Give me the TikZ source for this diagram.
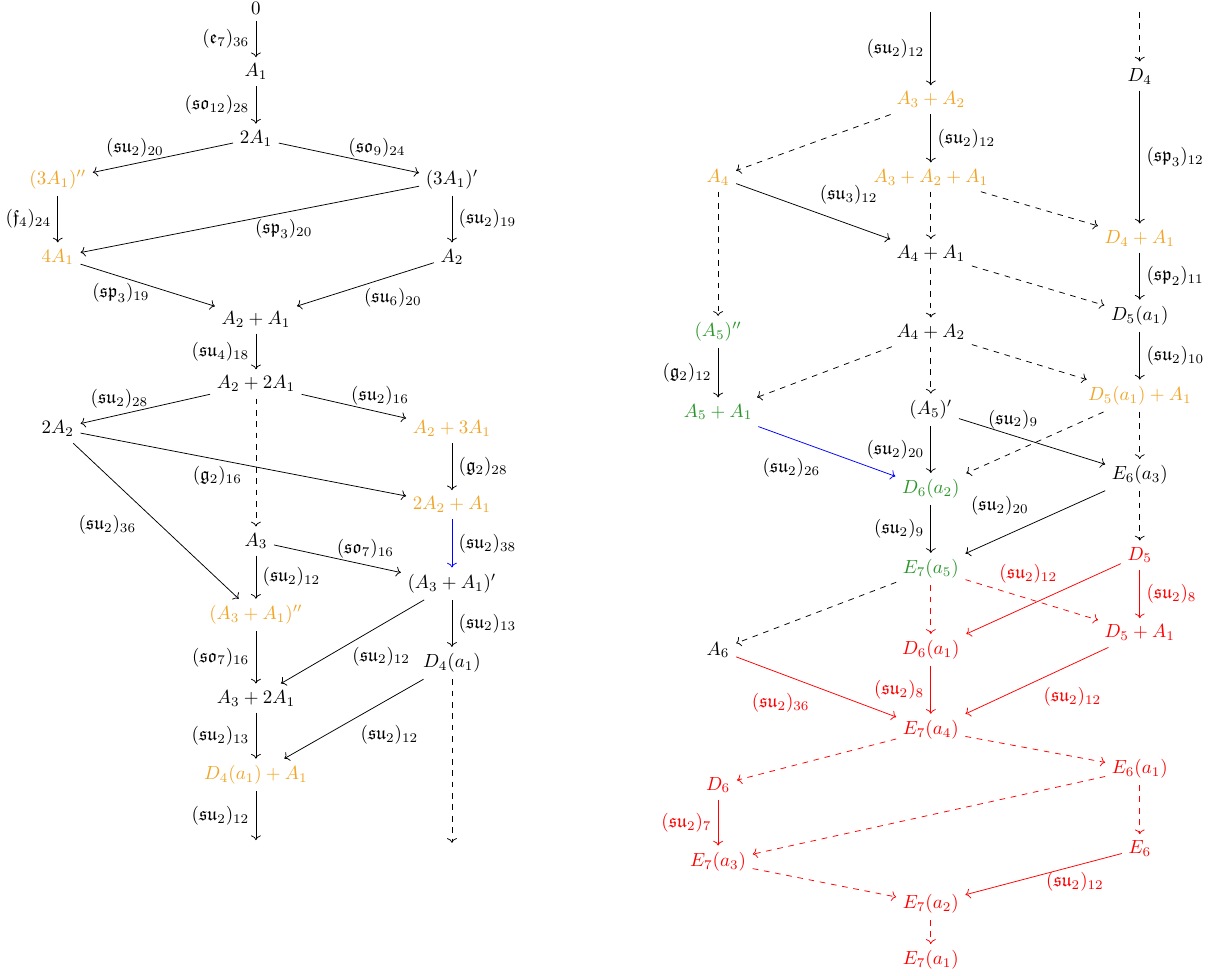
\documentclass[tikz,border=0pt]{standalone}
\usepackage{amsmath,amssymb}
\usepackage{xcolor}
\usetikzlibrary{arrows.meta}
\definecolor{orangeA}{RGB}{240,165,40}
\definecolor{greenA}{RGB}{40,150,40}
\tikzset{
  ornode/.style={text=orangeA},
  grnode/.style={text=greenA},
  rdnode/.style={text=red},
  dashedge/.style={->,dashed}
}
\begin{document}
\begin{tikzpicture}
\useasboundingbox (0,0) rectangle (22.54,-18.07);
% left diagram
\node (z) at (4.74,-0.15) {$0$};
\node (a1) at (4.74,-1.33) {$A_1$};
\node (twoa1) at (4.74,-2.56) {$2A_1$};
\node[ornode] (thrpp) at (1.07,-3.33) {$(3A_1)''$};
\node (thrp) at (8.37,-3.33) {$(3A_1)'$};
\node[ornode] (foura1) at (1.07,-4.76) {$4A_1$};
\node (a2) at (8.37,-4.76) {$A_2$};
\node (a2a1) at (4.74,-5.91) {$A_2+A_1$};
\node (a22a1) at (4.74,-7.11) {$A_2+2A_1$};
\node (twoa2) at (1.07,-7.94) {$2A_2$};
\node[ornode] (a23a1) at (8.37,-7.94) {$A_2+3A_1$};
\node[ornode] (twoa2a1) at (8.37,-9.35) {$2A_2+A_1$};
\node (a3) at (4.74,-10.02) {$A_3$};
\node (a3a1p) at (8.37,-10.81) {$(A_3+A_1)'$};
\node[ornode] (a3a1pp) at (4.74,-11.39) {$(A_3+A_1)''$};
\node (d4a1) at (8.37,-12.28) {$D_4(a_1)$};
\node (a32a1) at (4.74,-12.93) {$A_3+2A_1$};
\node[ornode] (d4a1a1) at (4.74,-14.35) {$D_4(a_1)+A_1$};
\coordinate (endL) at (4.74,-15.56);
\coordinate (endR) at (8.37,-15.61);

\draw[->] (z) -- (a1) node[midway,left]{$(\mathfrak{e}_7)_{36}$};
\draw[->] (a1) -- (twoa1) node[midway,left]{$(\mathfrak{so}_{12})_{28}$};
\draw[->] (twoa1) -- (thrpp) node[pos=0.7,above]{$(\mathfrak{su}_2)_{20}$};
\draw[->] (twoa1) -- (thrp) node[pos=0.7,above]{$(\mathfrak{so}_9)_{24}$};
\draw[->] (thrpp) -- (foura1) node[midway,left]{$(\mathfrak{f}_4)_{24}$};
\draw[->] (thrp) -- (foura1) node[pos=0.4,below]{$(\mathfrak{sp}_3)_{20}$};
\draw[->] (thrp) -- (a2) node[midway,right]{$(\mathfrak{su}_2)_{19}$};
\draw[->] (foura1) -- (a2a1) node[pos=0.3,below]{$(\mathfrak{sp}_3)_{19}$};
\draw[->] (a2) -- (a2a1) node[pos=0.3,below=3pt]{$(\mathfrak{su}_6)_{20}$};
\draw[->] (a2a1) -- (a22a1) node[midway,left]{$(\mathfrak{su}_4)_{18}$};
\draw[->] (a22a1) -- (twoa2) node[pos=0.7,above]{$(\mathfrak{su}_2)_{28}$};
\draw[->] (a22a1) -- (a23a1) node[pos=0.75,above]{$(\mathfrak{su}_2)_{16}$};
\draw[dashedge] (a22a1) -- (a3);
\draw[->] (twoa2) -- (twoa2a1) node[pos=0.42,below]{$(\mathfrak{g}_2)_{16}$};
\draw[->] (a23a1) -- (twoa2a1) node[midway,right]{$(\mathfrak{g}_2)_{28}$};
\draw[->] (twoa2) -- (a3a1pp) node[pos=0.42,below left]{$(\mathfrak{su}_2)_{36}$};
\draw[->,blue] (twoa2a1) -- (a3a1p) node[midway,right,text=black]{$(\mathfrak{su}_2)_{38}$};
\draw[->] (a3) -- (a3a1p) node[pos=0.72,above]{$(\mathfrak{so}_7)_{16}$};
\draw[->] (a3) -- (a3a1pp) node[midway,right]{$(\mathfrak{su}_2)_{12}$};
\draw[->] (a3a1p) -- (a32a1) node[pos=0.3,below=8pt]{$(\mathfrak{su}_2)_{12}$};
\draw[->] (a3a1p) -- (d4a1) node[midway,right]{$(\mathfrak{su}_2)_{13}$};
\draw[->] (a3a1pp) -- (a32a1) node[midway,left]{$(\mathfrak{so}_7)_{16}$};
\draw[->] (d4a1) -- (d4a1a1) node[pos=0.5,below right]{$(\mathfrak{su}_2)_{12}$};
\draw[->] (a32a1) -- (d4a1a1) node[midway,left]{$(\mathfrak{su}_2)_{13}$};
\draw[->] (d4a1a1) -- (endL) node[midway,left]{$(\mathfrak{su}_2)_{12}$};
\draw[dashedge] (d4a1) -- (endR);

% right diagram
\coordinate (topA) at (17.24,-0.22);
\coordinate (topD) at (21.11,-0.22);
\node[ornode] (a3a2) at (17.24,-1.85) {$A_3+A_2$};
\node (d4) at (21.11,-1.41) {$D_4$};
\node[ornode] (a4) at (13.30,-3.28) {$A_4$};
\node[ornode] (a3a2a1) at (17.24,-3.28) {$A_3+A_2+A_1$};
\node[ornode] (d4a1r) at (21.11,-4.41) {$D_4+A_1$};
\node (a4a1) at (17.24,-4.70) {$A_4+A_1$};
\node (d5a1) at (21.11,-5.85) {$D_5(a_1)$};
\node[grnode] (a5pp) at (13.30,-6.15) {$(A_5)''$};
\node (a4a2) at (17.24,-6.15) {$A_4+A_2$};
\node[grnode] (a5a1) at (13.30,-7.63) {$A_5+A_1$};
\node (a5p) at (17.24,-7.59) {$(A_5)'$};
\node[ornode] (d5a1a1) at (21.11,-7.33) {$D_5(a_1)+A_1$};
\node[grnode] (d6a2) at (17.24,-9.06) {$D_6(a_2)$};
\node (e6a3) at (21.11,-8.80) {$E_6(a_3)$};
\node[grnode] (e7a5) at (17.24,-10.54) {$E_7(a_5)$};
\node[rdnode] (d5) at (21.11,-10.28) {$D_5$};
\node (a6) at (13.30,-12.04) {$A_6$};
\node[rdnode] (d6a1) at (17.24,-12.04) {$D_6(a_1)$};
\node[rdnode] (d5a1r) at (21.11,-11.72) {$D_5+A_1$};
\node[rdnode] (e7a4) at (17.24,-13.52) {$E_7(a_4)$};
\node[rdnode] (d6) at (13.30,-14.54) {$D_6$};
\node[rdnode] (e6a1) at (21.11,-14.24) {$E_6(a_1)$};
\node[rdnode] (e7a3) at (13.30,-15.96) {$E_7(a_3)$};
\node[rdnode] (e6) at (21.11,-15.72) {$E_6$};
\node[rdnode] (e7a2) at (17.24,-16.74) {$E_7(a_2)$};
\node[rdnode] (e7a1) at (17.24,-17.78) {$E_7(a_1)$};

\draw[->] (topA) -- (a3a2) node[midway,left]{$(\mathfrak{su}_2)_{12}$};
\draw[dashedge] (topD) -- (d4);
\draw[dashedge] (a3a2) -- (a4);
\draw[->] (a3a2) -- (a3a2a1) node[midway,right]{$(\mathfrak{su}_2)_{12}$};
\draw[->] (d4) -- (d4a1r) node[midway,right]{$(\mathfrak{sp}_3)_{12}$};
\draw[->] (a4) -- (a4a1) node[pos=0.5,above right]{$(\mathfrak{su}_3)_{12}$};
\draw[dashedge] (a4) -- (a5pp);
\draw[dashedge] (a3a2a1) -- (a4a1);
\draw[dashedge] (a3a2a1) -- (d4a1r);
\draw[->] (d4a1r) -- (d5a1) node[midway,right]{$(\mathfrak{sp}_2)_{11}$};
\draw[dashedge] (a4a1) -- (a4a2);
\draw[dashedge] (a4a1) -- (d5a1);
\draw[->] (a5pp) -- (a5a1) node[midway,left]{$(\mathfrak{g}_2)_{12}$};
\draw[dashedge] (a4a2) -- (a5a1);
\draw[dashedge] (a4a2) -- (a5p);
\draw[dashedge] (a4a2) -- (d5a1a1);
\draw[->] (d5a1) -- (d5a1a1) node[midway,right]{$(\mathfrak{su}_2)_{10}$};
\draw[->,blue] (a5a1) -- (d6a2) node[pos=0.5,below left,text=black]{$(\mathfrak{su}_2)_{26}$};
\draw[->] (a5p) -- (d6a2) node[midway,left]{$(\mathfrak{su}_2)_{20}$};
\draw[->] (a5p) -- (e6a3) node[pos=0.37,above]{$(\mathfrak{su}_2)_{9}$};
\draw[dashedge] (d5a1a1) -- (d6a2);
\draw[dashedge] (d5a1a1) -- (e6a3);
\draw[->] (d6a2) -- (e7a5) node[midway,left]{$(\mathfrak{su}_2)_{9}$};
\draw[->] (e6a3) -- (e7a5) node[pos=0.5,above left]{$(\mathfrak{su}_2)_{20}$};
\draw[dashedge] (e6a3) -- (d5);
\draw[dashedge] (e7a5) -- (a6);
\draw[dashedge,red] (e7a5) -- (d6a1);
\draw[dashedge,red] (e7a5) -- (d5a1r);
\draw[->,red] (d5) -- (d6a1) node[pos=0.37,above left]{$(\mathfrak{su}_2)_{12}$};
\draw[->,red] (d5) -- (d5a1r) node[midway,right]{$(\mathfrak{su}_2)_{8}$};
\draw[->,red] (a6) -- (e7a4) node[pos=0.5,below left]{$(\mathfrak{su}_2)_{36}$};
\draw[->,red] (d6a1) -- (e7a4) node[midway,left]{$(\mathfrak{su}_2)_{8}$};
\draw[->,red] (d5a1r) -- (e7a4) node[pos=0.5,below right]{$(\mathfrak{su}_2)_{12}$};
\draw[dashedge,red] (e7a4) -- (d6);
\draw[dashedge,red] (e7a4) -- (e6a1);
\draw[->,red] (d6) -- (e7a3) node[midway,left]{$(\mathfrak{su}_2)_{7}$};
\draw[dashedge,red] (e6a1) -- (e7a3);
\draw[dashedge,red] (e6a1) -- (e6);
\draw[dashedge,red] (e7a3) -- (e7a2);
\draw[->,red] (e6) -- (e7a2) node[pos=0.3,below]{$(\mathfrak{su}_2)_{12}$};
\draw[dashedge,red] (e7a2) -- (e7a1);
\end{tikzpicture}
\end{document}
